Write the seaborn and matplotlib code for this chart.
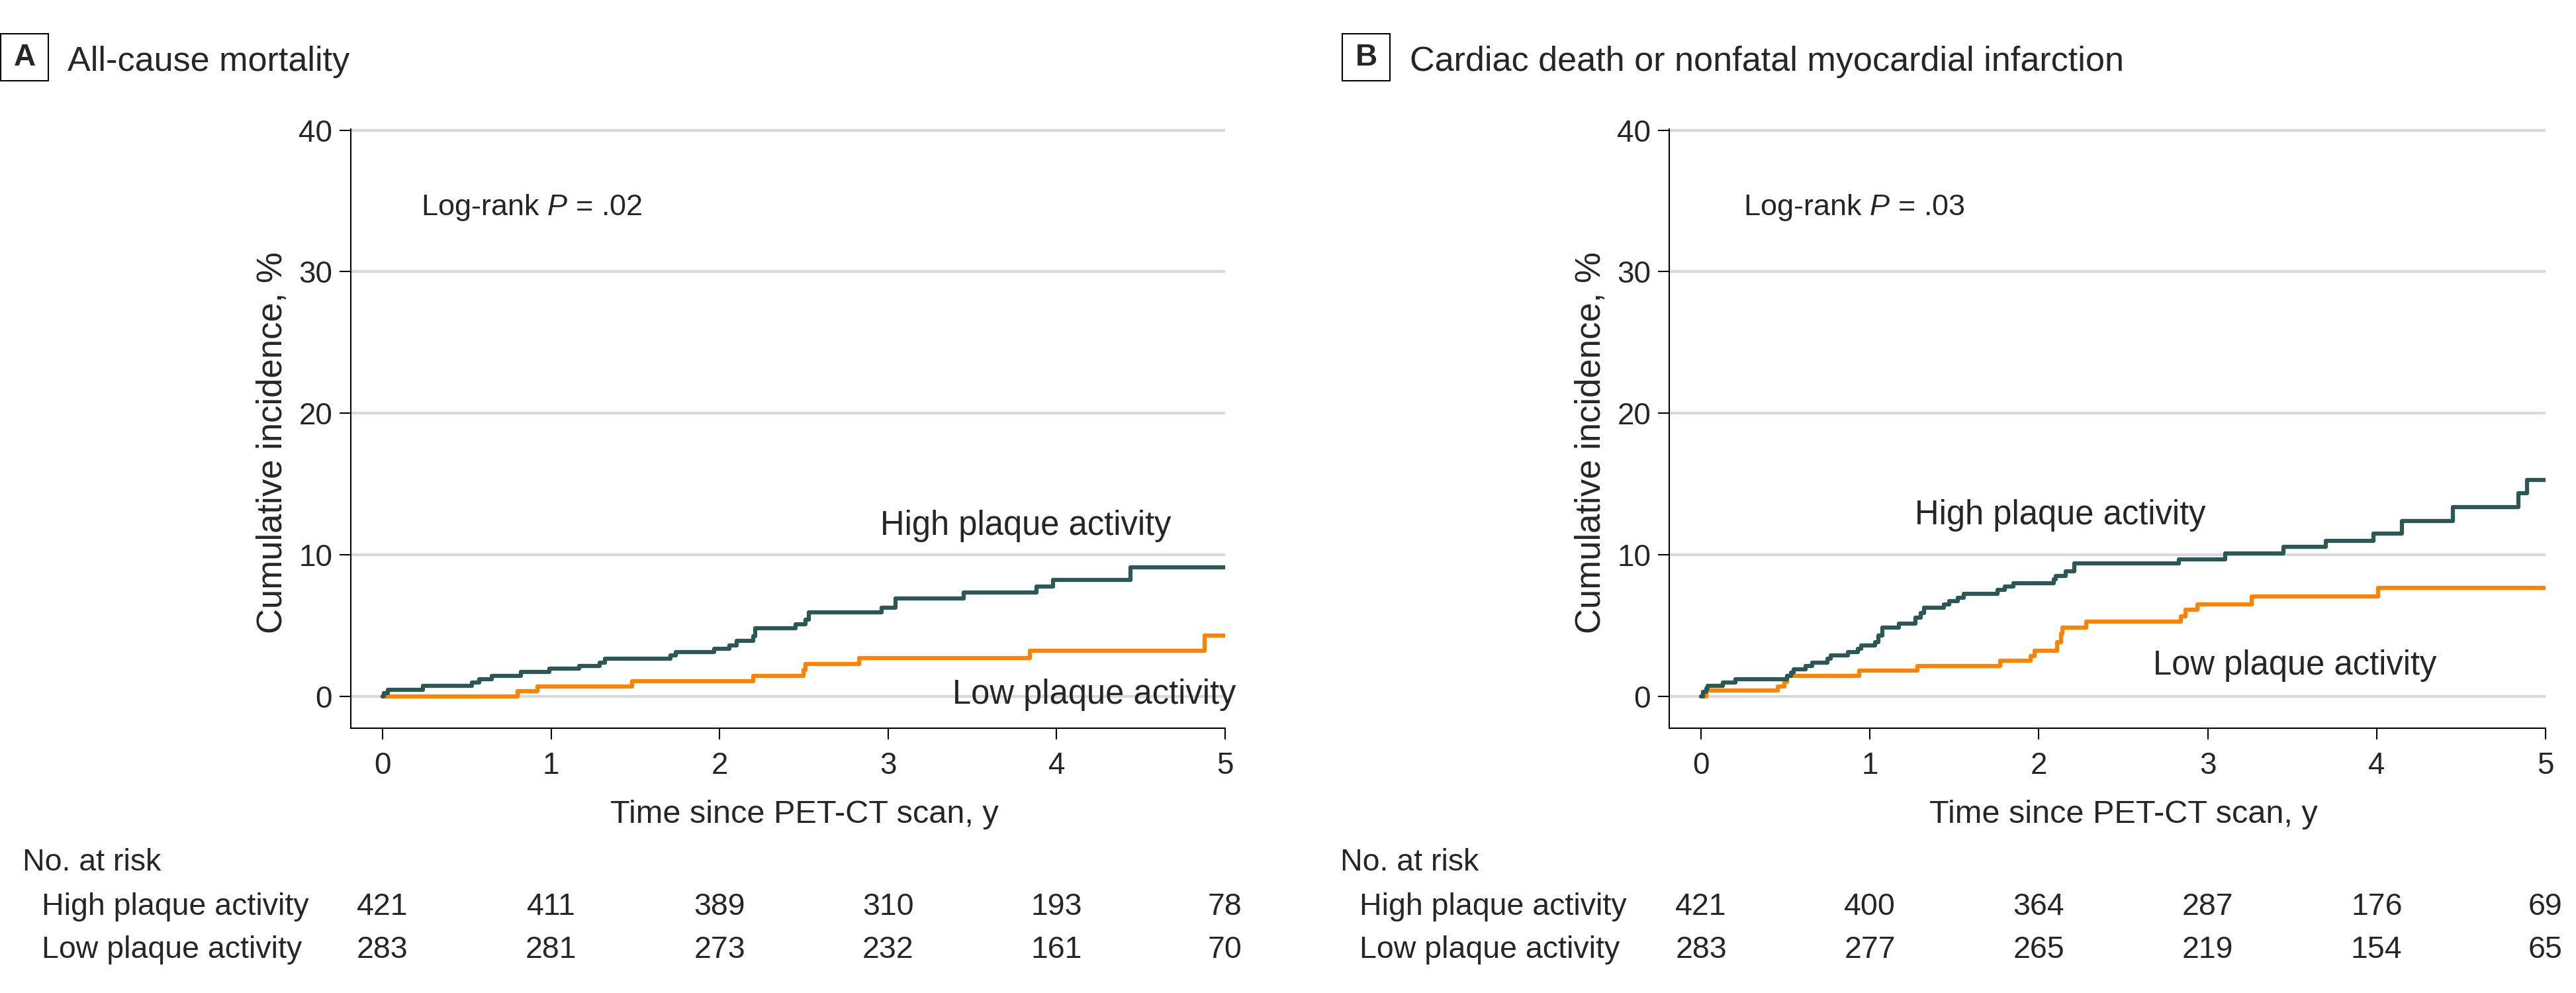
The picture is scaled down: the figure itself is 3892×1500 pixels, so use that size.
import matplotlib
matplotlib.use("Agg")
import matplotlib.pyplot as plt
from matplotlib.patches import Rectangle
from matplotlib.transforms import blended_transform_factory
import pandas as pd
import seaborn as sns

# Panel A: all-cause mortality, cumulative incidence (%)
a_high_time = [0.0, 0.01, 0.03, 0.24, 0.53, 0.575, 0.65, 0.82, 0.99, 1.165, 1.29, 1.32,
               1.71, 1.74, 1.97, 2.06, 2.10, 2.20, 2.21, 2.45, 2.51, 2.53, 2.96, 3.045,
               3.45, 3.88, 3.98, 4.44, 5.0]
a_high_inc = [0.0, 0.23, 0.47, 0.73, 0.97, 1.22, 1.45, 1.71, 1.95, 2.14, 2.37, 2.63,
              2.88, 3.10, 3.36, 3.59, 3.91, 4.22, 4.80, 5.08, 5.39, 5.91, 6.25, 6.92,
              7.31, 7.73, 8.20, 9.11, 9.11]
a_low_time = [0.0, 0.80, 0.92, 1.48, 2.20, 2.497, 2.51, 2.83, 3.84, 4.88, 5.0]
a_low_inc = [0.0, 0.34, 0.70, 1.06, 1.45, 1.87, 2.26, 2.70, 3.23, 4.29, 4.29]

# Panel B: cardiac death or nonfatal MI
b_high_time = [0.0, 0.01, 0.03, 0.04, 0.13, 0.205, 0.51, 0.535, 0.55, 0.62, 0.66, 0.75,
               0.77, 0.87, 0.93, 0.95, 1.03, 1.05, 1.075, 1.17, 1.27, 1.30, 1.32, 1.44,
               1.47, 1.52, 1.556, 1.755, 1.80, 1.85, 2.09, 2.10, 2.16, 2.21, 2.83, 3.105,
               3.45, 3.70, 3.98, 4.15, 4.45, 4.84, 4.89, 5.0]
b_high_inc = [0.0, 0.30, 0.55, 0.73, 0.97, 1.20, 1.45, 1.69, 1.92, 2.16, 2.39, 2.66,
              2.89, 3.13, 3.36, 3.59, 3.83, 4.30, 4.84, 5.11, 5.55, 5.90, 6.25, 6.48,
              6.72, 6.95, 7.23, 7.50, 7.73, 8.00, 8.28, 8.52, 8.83, 9.38, 9.69, 10.10,
              10.55, 11.00, 11.50, 12.40, 13.36, 14.34, 15.27, 15.27]
b_low_time = [0.0, 0.03, 0.454, 0.495, 0.51, 0.935, 1.28, 1.77, 1.95, 1.975, 2.11, 2.13,
              2.14, 2.28, 2.84, 2.87, 2.94, 3.26, 4.01, 5.0]
b_low_inc = [0.0, 0.39, 0.70, 1.02, 1.44, 1.80, 2.14, 2.50, 2.86, 3.20, 3.83, 4.45,
             4.84, 5.27, 5.66, 6.10, 6.48, 7.03, 7.66, 7.66]

# number at risk table
risk_years = [0, 1, 2, 3, 4, 5]
a_risk_high = [421, 411, 389, 310, 193, 78]
a_risk_low = [283, 281, 273, 232, 161, 70]
b_risk_high = [421, 400, 364, 287, 176, 69]
b_risk_low = [283, 277, 265, 219, 154, 65]

groups = ["High plaque activity", "Low plaque activity"]
y_ticks = [0, 10, 20, 30, 40]

HIGH_COLOR = "#2B5754"
LOW_COLOR = "#FF8200"

sns.set_theme(style="white")
plt.rcParams["font.family"] = ["Liberation Sans", "DejaVu Sans"]
plt.rcParams["mathtext.fontset"] = "custom"
plt.rcParams["mathtext.rm"] = "Liberation Sans"
plt.rcParams["mathtext.it"] = "Liberation Sans:italic"


def make_frame(high_t, high_y, low_t, low_y):
    high = pd.DataFrame({"time": high_t, "incidence": high_y, "group": groups[0]})
    low = pd.DataFrame({"time": low_t, "incidence": low_y, "group": groups[1]})
    return pd.concat([high, low], ignore_index=True)


def draw_panel(fig, rect, letter, title, title_x, box_x, df, pval, p_x,
               high_lab, low_lab, risk_high, risk_low):
    ax = fig.add_axes(rect)
    sns.lineplot(data=df, x="time", y="incidence", hue="group",
                 palette={groups[0]: HIGH_COLOR, groups[1]: LOW_COLOR},
                 hue_order=[groups[1], groups[0]],
                 drawstyle="steps-post", estimator=None, legend=False,
                 linewidth=4.5, ax=ax)

    ax.set_xlim(-0.188, 5)
    ax.set_ylim(-2.26, 40.1)
    ax.set_xticks(risk_years)
    ax.set_yticks(y_ticks)
    ax.set_axisbelow(True)
    ax.yaxis.grid(True, color="#D9D9D9", linewidth=3)
    ax.xaxis.grid(False)
    for side in ["top", "right"]:
        ax.spines[side].set_visible(False)
    for side in ["left", "bottom"]:
        ax.spines[side].set_color("black")
        ax.spines[side].set_linewidth(1.5)
    ax.tick_params(axis="both", length=12, width=1.5, color="black",
                   labelsize=33, left=True, bottom=True)
    ax.tick_params(axis="x", pad=13)
    ax.tick_params(axis="y", pad=8)

    ax.set_xlabel("Time since PET-CT scan, y", fontsize=35)
    ax.xaxis.set_label_coords(0.5186, -0.158)
    ax.xaxis.label.set_va("baseline")
    ax.set_ylabel("Cumulative incidence, %", fontsize=38)
    ax.yaxis.set_label_coords(-0.089, 0.477)
    ax.yaxis.label.set_va("center")

    ax.text(p_x, 34.0, "Log-rank $\\mathit{P}$ = " + pval, fontsize=32.5, va="baseline")
    ax.text(high_lab[0], high_lab[1], groups[0], fontsize=36.5, ha="center", va="baseline")
    ax.text(low_lab[0], low_lab[1], groups[1], fontsize=36.5, ha="center", va="baseline")

    # panel title with boxed letter
    fig.add_artist(Rectangle((box_x, 0.9187), 0.0185, 0.0473, transform=fig.transFigure,
                             fill=False, edgecolor="black", linewidth=1.5))
    fig.text(box_x + 0.00925, 0.942, letter, fontsize=33, fontweight="bold",
             ha="center", va="center")
    fig.text(title_x, 0.929, title, fontsize=37.5, va="baseline")

    # number at risk
    lab_tr = blended_transform_factory(ax.transAxes, fig.transFigure)
    num_tr = blended_transform_factory(ax.transData, fig.transFigure)
    ax.text(-0.3755, 0.1233, "No. at risk", transform=lab_tr, fontsize=33.5, va="baseline")
    ax.text(-0.3535, 0.0787, groups[0], transform=lab_tr, fontsize=33.5, va="baseline")
    ax.text(-0.3535, 0.0353, groups[1], transform=lab_tr, fontsize=33.5, va="baseline")
    for yr, nh, nl in zip(risk_years, risk_high, risk_low):
        ax.text(yr, 0.0787, str(nh), transform=num_tr, fontsize=33.5,
                ha="center", va="baseline")
        ax.text(yr, 0.0353, str(nl), transform=num_tr, fontsize=33.5,
                ha="center", va="baseline")
    return ax


fig = plt.figure(figsize=(38.92, 15), dpi=100)

df_a = make_frame(a_high_time, a_high_inc, a_low_time, a_low_inc)
df_b = make_frame(b_high_time, b_high_inc, b_low_time, b_low_inc)

draw_panel(fig, [0.13618, 0.26667, 0.33941, 0.6036], "A", "All-cause mortality",
           0.0262, 0.0003, df_a, ".02", 0.23, (3.815, 11.4), (4.225, -0.53),
           a_risk_high, a_risk_low)
draw_panel(fig, [0.64799, 0.26667, 0.34019, 0.6036], "B",
           "Cardiac death or nonfatal myocardial infarction",
           0.5473, 0.5211, df_b, ".03", 0.25, (2.125, 12.16), (3.515, 1.52),
           b_risk_high, b_risk_low)

fig.savefig("out.png", dpi=100, facecolor="white")
